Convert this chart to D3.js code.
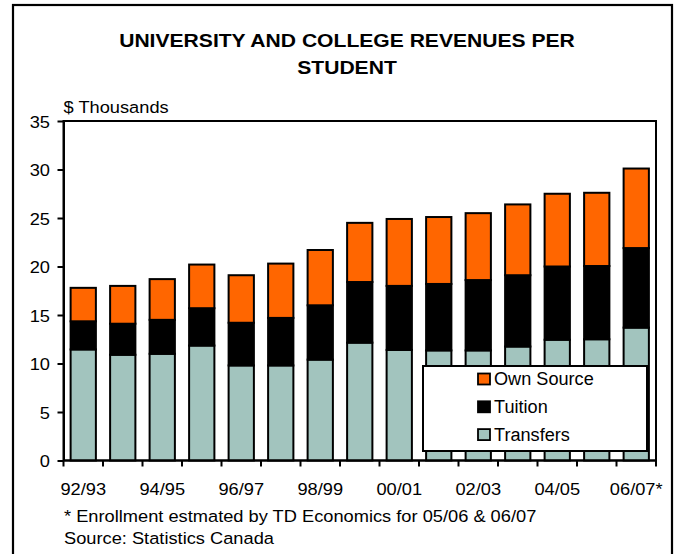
<!DOCTYPE html>
<html>
<head>
<meta charset="utf-8">
<script src="https://cdn.jsdelivr.net/npm/d3@7"></script>
<style>
  html, body { margin: 0; padding: 0; background: #fff; }
  svg { display: block; }
  text { font-family: "Liberation Sans", Arial, sans-serif; fill: #000; }
</style>
</head>
<body>
<svg id="chart" width="679" height="554"></svg>
<script>
// Academic years (fiscal)
const categories = ["92/93","93/94","94/95","95/96","96/97","97/98","98/99","99/00",
                    "00/01","01/02","02/03","03/04","04/05","05/06","06/07"];
// Revenue per student, $ thousands
const transfers = [11.45, 10.9, 11.0, 11.85, 9.8, 9.8, 10.4, 12.15, 11.4, 11.35, 11.35, 11.75, 12.45, 12.5, 13.7];
const tuition   = [2.9, 3.2, 3.5, 3.85, 4.4, 4.9, 5.6, 6.25, 6.6, 6.85, 7.25, 7.35, 7.55, 7.55, 8.2];
const ownSource = [3.45, 3.9, 4.2, 4.5, 4.9, 5.6, 5.7, 6.1, 6.9, 6.9, 6.9, 7.3, 7.5, 7.55, 8.2];

const seriesNames = ["Transfers", "Tuition", "Own Source"];
const yTicks = [0, 5, 10, 15, 20, 25, 30, 35];
const xTickLabels = ["92/93","","94/95","","96/97","","98/99","","00/01","","02/03","","04/05","","06/07*"];

const titleLines = ["UNIVERSITY AND COLLEGE REVENUES PER", "STUDENT"];
const unitLabel = "$ Thousands";
const notes = ["* Enrollment estmated by TD Economics for 05/06 & 06/07", "Source: Statistics Canada"];

const colors = { "Transfers": "#A2C4BE", "Tuition": "#000000", "Own Source": "#FF6600" };

const svg = d3.select("#chart");
const SX = 1.12; // horizontal text stretch

// outer frame
svg.append("rect")
  .attr("x", 13).attr("y", 5).attr("width", 659).attr("height", 580)
  .attr("fill", "none").attr("stroke", "#000").attr("stroke-width", 2.2);

// title
function stretchedText(g, x, y, str, size, weight, anchor, sx) {
  return g.append("text")
    .attr("transform", `translate(${x},${y}) scale(${sx},1)`)
    .attr("text-anchor", anchor)
    .attr("font-size", size)
    .attr("font-weight", weight)
    .text(str);
}
stretchedText(svg, 347, 47, titleLines[0], 18.5, "bold", "middle", 1.14);
stretchedText(svg, 347, 73.5, titleLines[1], 18.5, "bold", "middle", 1.14);

// plot area
const plot = { left: 63.5, right: 656, top: 121, bottom: 460.5 };

const x = d3.scaleBand()
  .domain(categories)
  .range([plot.left, plot.right])
  .paddingInner(0.36)
  .paddingOuter(0.18);

const y = d3.scaleLinear().domain([0, 35]).range([plot.bottom, plot.top]);

const rows = categories.map((c, i) => ({
  cat: c, "Transfers": transfers[i], "Tuition": tuition[i], "Own Source": ownSource[i]
}));
const stacked = d3.stack().keys(seriesNames)(rows);

// plot frame (top and right edges)
svg.append("rect")
  .attr("x", plot.left).attr("y", plot.top)
  .attr("width", plot.right - plot.left).attr("height", plot.bottom - plot.top)
  .attr("fill", "none").attr("stroke", "#000").attr("stroke-width", 2);

// bars
svg.append("g").selectAll("g")
  .data(stacked)
  .join("g")
    .attr("fill", d => colors[d.key])
  .selectAll("rect")
  .data(d => d)
  .join("rect")
    .attr("x", d => x(d.data.cat))
    .attr("width", x.bandwidth())
    .attr("y", d => y(d[1]))
    .attr("height", d => y(d[0]) - y(d[1]))
    .attr("stroke", "#000")
    .attr("stroke-width", 2);

// y axis
const yAxis = svg.append("g")
  .attr("transform", `translate(${plot.left},0)`)
  .call(d3.axisLeft(y).tickValues(yTicks).tickSize(6).tickSizeOuter(0).tickPadding(0));
yAxis.select(".domain").attr("stroke-width", 2);
yAxis.selectAll(".tick line").attr("stroke-width", 2);
yAxis.selectAll(".tick text")
  .attr("x", null).attr("dy", null)
  .attr("font-family", null).attr("font-size", 16.3)
  .attr("transform", `translate(-13.5,6) scale(${SX},1)`);
yAxis.attr("font-family", null).attr("font-size", null);

// x axis: ticks at band boundaries, labels at band centres
const step = x.step();
const boundaries = categories.map(c => x(c) + x.bandwidth() / 2 - step / 2)
  .concat([x(categories[categories.length - 1]) + x.bandwidth() / 2 + step / 2]);
const xAxis = svg.append("g");
xAxis.append("line")
  .attr("x1", plot.left).attr("x2", plot.right)
  .attr("y1", plot.bottom).attr("y2", plot.bottom)
  .attr("stroke", "#000").attr("stroke-width", 2);
xAxis.selectAll("line.tick")
  .data(boundaries)
  .join("line")
    .attr("class", "tick")
    .attr("x1", d => d).attr("x2", d => d)
    .attr("y1", plot.bottom).attr("y2", plot.bottom + 6)
    .attr("stroke", "#000").attr("stroke-width", 2);
xAxis.selectAll("text")
  .data(categories.map((c, i) => ({ c, label: xTickLabels[i] })).filter(d => d.label))
  .join("text")
    .attr("text-anchor", "middle")
    .attr("font-size", 16.3)
    .attr("transform", d => `translate(${x(d.c) + x.bandwidth() / 2},495) scale(${SX},1)`)
    .text(d => d.label);

// unit label
stretchedText(svg, 63.5, 113, unitLabel, 16.3, "normal", "start", SX);

// notes
stretchedText(svg, 64, 521.5, notes[0], 16.3, "normal", "start", SX);
stretchedText(svg, 64, 544, notes[1], 16.3, "normal", "start", SX);

// legend
const legend = svg.append("g");
legend.append("rect")
  .attr("x", 423).attr("y", 366).attr("width", 224).attr("height", 85)
  .attr("fill", "#fff").attr("stroke", "#000").attr("stroke-width", 2);
const legendOrder = seriesNames.slice().reverse();
const items = legend.selectAll("g.item")
  .data(legendOrder)
  .join("g")
    .attr("class", "item")
    .attr("transform", (d, i) => `translate(0,${i * 27.8})`);
items.append("rect")
  .attr("x", 478).attr("y", 373.5).attr("width", 12).attr("height", 11)
  .attr("fill", d => colors[d]).attr("stroke", "#000").attr("stroke-width", 1.8);
items.append("text")
  .attr("transform", `translate(494,385.3) scale(1.03,1)`)
  .attr("font-size", 17.6)
  .text(d => d);
</script>
</body>
</html>
